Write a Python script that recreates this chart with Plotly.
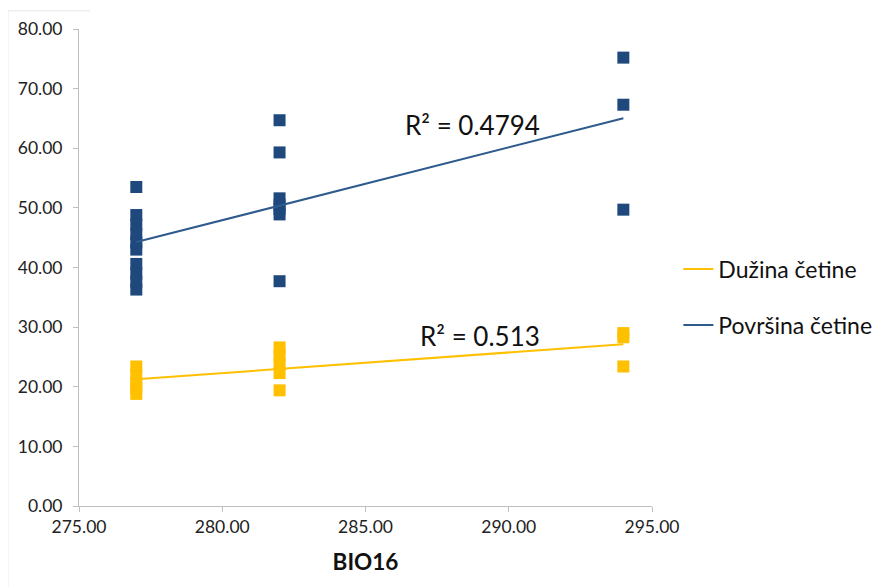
import numpy as np
import plotly.graph_objects as go

# ---------------------------------------------------------------------------
# Data (BIO16 vs needle length / area)
# ---------------------------------------------------------------------------
x_povrsina = [277] * 10 + [282] * 7 + [294] * 3
y_povrsina = [53.5, 48.8, 47.2, 45.6, 44.2, 43.0, 40.6, 39.0, 37.6, 36.3,
              64.7, 59.3, 51.6, 50.5, 49.8, 48.9, 37.7,
              75.2, 67.3, 49.7]

x_duzina = [277] * 5 + [282] * 5 + [294] * 3
y_duzina = [23.4, 22.0, 20.6, 19.8, 18.8,
            26.6, 25.2, 23.8, 22.3, 19.4,
            29.0, 28.3, 23.4]

r2_labels = ["R² = 0.4794", "R² = 0.513"]

BLUE = "#1F497D"
BLUE_LINE = "#2E5A8C"
YELLOW = "#FFC000"
FONT = "Lato, 'Open Sans', sans-serif"


def trend(xs, ys):
    a, b = np.polyfit(xs, ys, 1)
    xl = [min(xs), max(xs)]
    return xl, [a * v + b for v in xl]


fig = go.Figure()

# markers
fig.add_trace(go.Scatter(
    x=x_povrsina, y=y_povrsina, mode="markers", showlegend=False,
    marker=dict(symbol="square", size=12, color=BLUE, line=dict(width=0)),
))
fig.add_trace(go.Scatter(
    x=x_duzina, y=y_duzina, mode="markers", showlegend=False,
    marker=dict(symbol="square", size=12, color=YELLOW, line=dict(width=0)),
))

# trendlines (these are what the legend shows)
tx, ty = trend(x_duzina, y_duzina)
fig.add_trace(go.Scatter(
    x=tx, y=ty, mode="lines", name="Dužina četine", legendgroup="a",
    line=dict(color=YELLOW, width=2),
))
tx, ty = trend(x_povrsina, y_povrsina)
fig.add_trace(go.Scatter(
    x=tx, y=ty, mode="lines", name="Površina četine", legendgroup="b",
    line=dict(color=BLUE_LINE, width=2),
))

fig.add_annotation(x=288.74, y=63.9, text=r2_labels[0], showarrow=False,
                   font=dict(size=26, color="#111111", family=FONT))
fig.add_annotation(x=289.0, y=28.5, text=r2_labels[1], showarrow=False,
                   font=dict(size=26, color="#111111", family=FONT))

# faint chart-area frame (left and top edge)
fig.add_shape(type="line", xref="paper", yref="paper",
              x0=-0.124, x1=-0.124, y0=1.038, y1=-0.2,
              line=dict(color="#E6E6E6", width=1))
fig.add_shape(type="line", xref="paper", yref="paper",
              x0=-0.124, x1=0.02, y0=1.038, y1=1.038,
              line=dict(color="#E6E6E6", width=1))

axis_common = dict(
    showgrid=False, zeroline=False, showline=True, linecolor="#BFBFBF",
    linewidth=1, ticks="outside", ticklen=5, tickcolor="#BFBFBF",
    tickformat=".2f", tickfont=dict(size=17.5, color="#222222", family=FONT),
)

fig.update_xaxes(range=[275, 295], dtick=5, tick0=275,
                 title=dict(text="<b>BIO16</b>", font=dict(size=22.5, color="#111111", family=FONT),
                            standoff=18),
                 **axis_common)
fig.update_yaxes(range=[0, 80], dtick=10, ticklabelstandoff=7, **axis_common)

fig.update_layout(
    width=880, height=579,
    margin=dict(l=71, r=236, t=21, b=81, autoexpand=False),
    paper_bgcolor="white", plot_bgcolor="white",
    font=dict(family=FONT),
    legend=dict(
        x=1.046, y=0.438, xanchor="left", yanchor="middle",
        font=dict(size=23, color="#111111", family=FONT),
        tracegroupgap=23, itemwidth=30,
    ),
)

fig.write_html("out.html")
